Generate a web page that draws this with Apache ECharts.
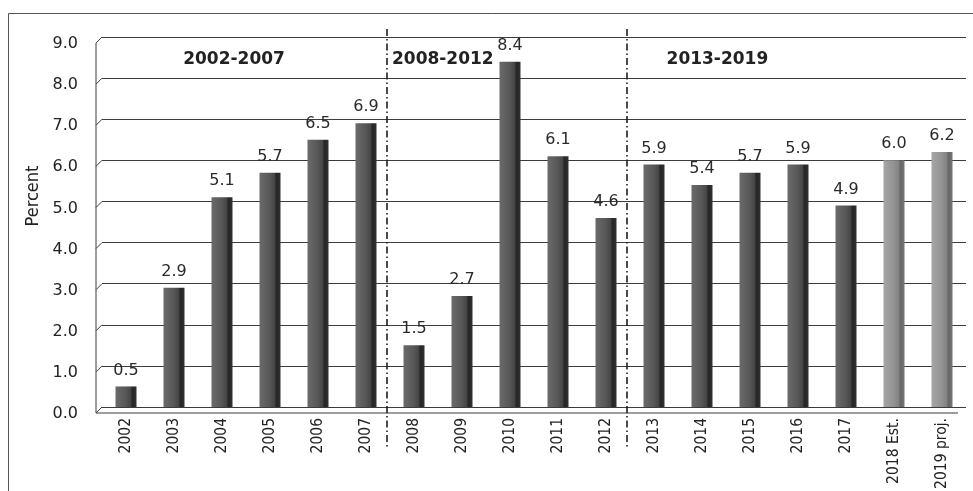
<!DOCTYPE html>
<html>
<head>
<meta charset="utf-8">
<script src="https://cdn.jsdelivr.net/npm/echarts/dist/echarts.min.js"></script>
<style>
  html, body { margin: 0; padding: 0; background: #fff; }
  #chart { width: 973px; height: 491px; }
</style>
</head>
<body>
<div id="chart"></div>
<script>
// Annual growth, percent
const years = ['2002', '2003', '2004', '2005', '2006', '2007', '2008', '2009', '2010',
  '2011', '2012', '2013', '2014', '2015', '2016', '2017', '2018 Est.', '2019 proj.'];
const growth = [0.5, 2.9, 5.1, 5.7, 6.5, 6.9, 1.5, 2.7, 8.4, 6.1, 4.6, 5.9, 5.4, 5.7, 5.9, 4.9, 6.0, 6.2];
const isForecast = [false, false, false, false, false, false, false, false, false,
  false, false, false, false, false, false, false, true, true];
const periods = ['2002-2007', '2008-2012', '2013-2019'];
const periodFirstYear = ['2002', '2008', '2013'];
const yTicks = [0, 1, 2, 3, 4, 5, 6, 7, 8, 9];

const TEXT = '#222';
const LINE = '#3c3c3c';

const darkFill = new echarts.graphic.LinearGradient(0, 0, 1, 0, [
  { offset: 0, color: '#6a6a6a' },
  { offset: 0.5, color: '#575757' },
  { offset: 0.74, color: '#444' },
  { offset: 0.78, color: '#262626' },
  { offset: 1, color: '#303030' }
]);
const lightFill = new echarts.graphic.LinearGradient(0, 0, 1, 0, [
  { offset: 0, color: '#a6a6a6' },
  { offset: 0.5, color: '#929292' },
  { offset: 0.74, color: '#828282' },
  { offset: 0.78, color: '#666' },
  { offset: 1, color: '#747474' }
]);

const chart = echarts.init(document.getElementById('chart'), null, { renderer: 'canvas' });

// wall stubs, left edge and floor give the plot a shallow box look
function renderFrame(params, api) {
  const v = api.value(1);
  const p = api.coord([0, v]);
  const cs = params.coordSys;
  const L = cs.x, R = cs.x + cs.width, B = cs.y + cs.height, T = cs.y;
  const d = 6;
  const kids = [{
    type: 'line',
    shape: { x1: L - d, y1: p[1] + d, x2: L, y2: p[1] },
    style: { stroke: LINE, lineWidth: 1 }
  }];
  if (v === 0) {
    kids.push({
      type: 'line',
      shape: { x1: L - d, y1: T + d, x2: L - d, y2: B + d },
      style: { stroke: LINE, lineWidth: 1 }
    });
    kids.push({
      type: 'line',
      shape: { x1: L - d, y1: B + d, x2: R - 8, y2: B + d },
      style: { stroke: LINE, lineWidth: 1.2 }
    });
  }
  return { type: 'group', children: kids };
}

// dash-dot dividers between the three periods
function renderDivider(params, api) {
  const idx = api.value(0);
  const band = api.size([1, 0])[0];
  const x = api.coord([idx, 0])[0] - band / 2 - 3;
  const yTop = api.coord([idx, 9])[1] - 8;
  const yBot = api.coord([idx, 0])[1] + 40;
  return {
    type: 'line',
    shape: { x1: x, y1: yTop, x2: x, y2: yBot },
    style: { stroke: '#1e1e1e', lineWidth: 1.6, lineDash: [7, 3, 1.5, 3] }
  };
}

// period captions near the top of the plot
const captionShift = [1.65, 0.0, 0.72];
function renderCaption(params, api) {
  const i = params.dataIndex;
  const idx = api.value(0);
  const band = api.size([1, 0])[0];
  const x = api.coord([idx, 0])[0] - band / 2 + captionShift[i] * band + 2;
  const y = api.coord([idx, 8.45])[1];
  return {
    type: 'text',
    x: x, y: y,
    style: {
      text: periods[i],
      fill: TEXT,
      font: 'bold 17px "DejaVu Sans", Verdana, sans-serif',
      align: 'left',
      verticalAlign: 'middle'
    }
  };
}

chart.setOption({
  animation: false,
  backgroundColor: '#fff',
  grid: { left: 102, right: 7, top: 37, bottom: 84, containLabel: false, outerBoundsMode: 'none' },
  xAxis: {
    type: 'category',
    data: years,
    axisLine: { show: false },
    axisTick: { show: false },
    axisLabel: {
      rotate: 90,
      margin: 11,
      color: TEXT,
      fontSize: 15.5,
      fontFamily: '"Liberation Sans Narrow", "DejaVu Sans Condensed", "Liberation Sans", sans-serif'
    }
  },
  yAxis: {
    type: 'value',
    min: 0,
    max: 9,
    interval: 1,
    axisLine: { show: false },
    axisTick: { show: false },
    splitLine: { show: true, lineStyle: { color: LINE, width: 1 } },
    axisLabel: {
      margin: 24,
      verticalAlign: 'top',
      lineHeight: 14,
      color: TEXT,
      fontSize: 16,
      fontFamily: '"DejaVu Sans", Verdana, sans-serif',
      formatter: v => v.toFixed(1)
    }
  },
  graphic: [
    {
      type: 'rect',
      silent: true,
      shape: { x: 8.5, y: 13.5, width: 1200, height: 800 },
      style: { fill: 'none', stroke: '#555', lineWidth: 1 }
    },
    {
      type: 'text',
      x: 33, y: 196,
      rotation: Math.PI / 2,
      style: {
        text: 'Percent',
        fill: TEXT,
        font: '18px "Liberation Sans Narrow", "DejaVu Sans Condensed", sans-serif',
        align: 'center',
        verticalAlign: 'middle'
      }
    }
  ],
  series: [
    {
      type: 'custom',
      clip: false,
      silent: true,
      renderItem: renderFrame,
      data: yTicks.map(t => [0, t]),
      z: 1
    },
    {
      type: 'bar',
      barWidth: 21,
      z: 3,
      data: growth.map((v, i) => ({
        value: v,
        itemStyle: { color: isForecast[i] ? lightFill : darkFill }
      })),
      label: {
        show: true,
        position: 'top',
        distance: 8,
        color: '#2a2a2a',
        fontSize: 16,
        fontFamily: '"DejaVu Sans", Verdana, sans-serif',
        formatter: p => p.value.toFixed(1)
      }
    },
    {
      type: 'custom',
      clip: false,
      silent: true,
      renderItem: renderDivider,
      data: periodFirstYear.slice(1).map(y => [years.indexOf(y), 9]),
      z: 4
    },
    {
      type: 'custom',
      clip: false,
      silent: true,
      renderItem: renderCaption,
      data: periodFirstYear.map(y => [years.indexOf(y), 8.45]),
      z: 5
    }
  ]
});
</script>
</body>
</html>
